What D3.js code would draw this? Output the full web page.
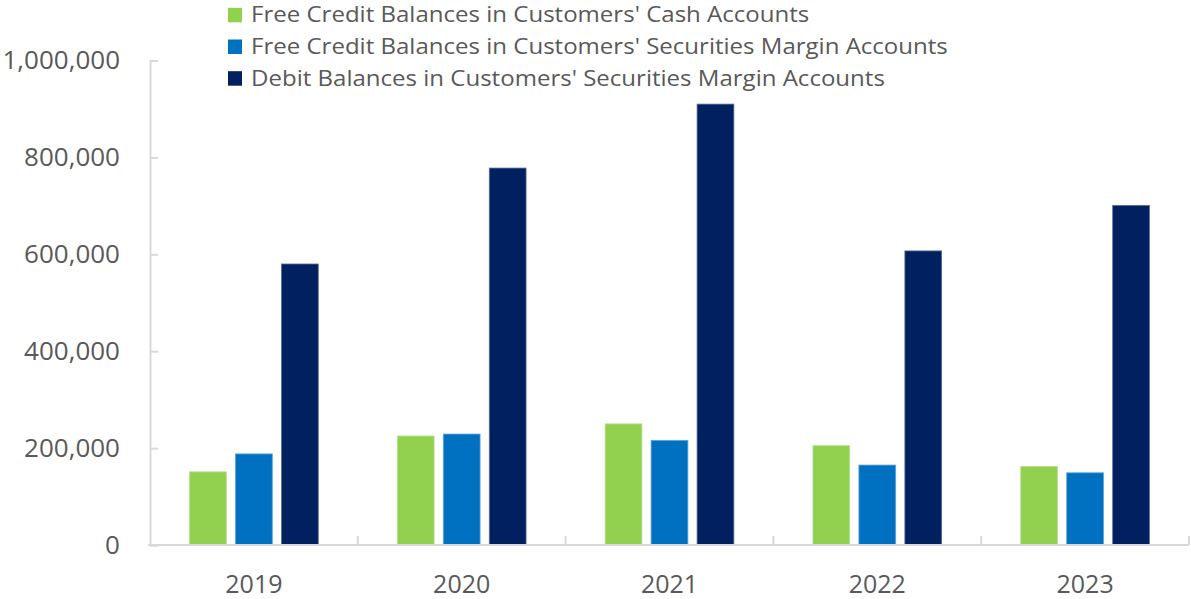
<!DOCTYPE html>
<html>
<head>
<meta charset="utf-8">
<script src="https://cdn.jsdelivr.net/npm/d3@7"></script>
<style>
  html, body { margin: 0; padding: 0; background: #ffffff; }
  svg { display: block; font-family: "Open Sans", "Noto Sans", sans-serif; }
</style>
</head>
<body>
<svg id="chart" width="1191" height="599"></svg>
<script>
// Years shown on the horizontal axis
const years = ["2019", "2020", "2021", "2022", "2023"];

// Series names (legend order)
const seriesNames = [
  "Free Credit Balances in Customers' Cash Accounts",
  "Free Credit Balances in Customers' Securities Margin Accounts",
  "Debit Balances in Customers' Securities Margin Accounts"
];

// Balances per year, one array per series
const cashFreeCredit   = [151000, 225000, 250000, 205000, 162000];
const marginFreeCredit = [188000, 229000, 216000, 165000, 149000];
const marginDebit      = [580000, 778000, 910000, 607000, 701000];

// Value-axis ticks
const yTicks = [0, 200000, 400000, 600000, 800000, 1000000];

const seriesValues = [cashFreeCredit, marginFreeCredit, marginDebit];
const seriesColors = ["#92d050", "#0070c0", "#002060"];
const seriesEdges  = ["#b9e08f", "#5fa3d8", "#5a6f98"];

const svg = d3.select("#chart");
const textColor = "#595959";
const axisColor = "#d9d9d9";

const plot = { left: 150, right: 1189, top: 60.5, bottom: 545 };

const y = d3.scaleLinear().domain([0, 1000000]).range([plot.bottom, plot.top]);
const x0 = d3.scaleBand().domain(years).range([plot.left, plot.right]).padding(0);
const x1 = d3.scaleBand().domain(d3.range(seriesNames.length))
  .range([0, x0.bandwidth()]).paddingInner(0.2).paddingOuter(0.86);

// Bars
const rows = years.map((yr, i) => ({ yr, vals: seriesValues.map(s => s[i]) }));
const groups = svg.append("g").selectAll("g").data(rows).join("g")
  .attr("transform", d => `translate(${x0(d.yr)},0)`);
groups.selectAll("rect")
  .data(d => d.vals.map((v, k) => ({ v, k })))
  .join("rect")
  .attr("x", d => x1(d.k))
  .attr("width", x1.bandwidth())
  .attr("y", d => y(d.v))
  .attr("height", d => y(0) - y(d.v))
  .attr("fill", d => seriesColors[d.k])
  .attr("stroke", d => seriesEdges[d.k])
  .attr("stroke-width", 0.8);

// Y axis
const yAxis = svg.append("g")
  .attr("transform", `translate(${plot.left},0)`)
  .call(d3.axisLeft(y).tickValues(yTicks).tickFormat(d3.format(",")).tickSize(-8).tickPadding(30));
yAxis.select(".domain").attr("stroke", axisColor).attr("stroke-width", 2);
yAxis.selectAll(".tick line").attr("stroke", axisColor).attr("stroke-width", 2);
yAxis.selectAll(".tick text")
  .attr("fill", textColor).attr("font-size", 25).attr("font-family", "'Open Sans', sans-serif")
  .attr("x", 0)
  .attr("transform", "translate(-30,0) scale(1.04,1)");

// X axis
const xAxis = svg.append("g")
  .attr("transform", `translate(0,${plot.bottom})`)
  .call(d3.axisBottom(x0).tickSize(0).tickPadding(30));
xAxis.select(".domain").remove();
xAxis.append("line")
  .attr("x1", plot.left - 2).attr("x2", plot.right)
  .attr("stroke", axisColor).attr("stroke-width", 2);
const boundaries = years.map(yr => x0(yr) + x0.bandwidth());
xAxis.selectAll(".boundary").data(boundaries).join("line")
  .attr("class", "boundary")
  .attr("x1", d => d).attr("x2", d => d)
  .attr("y1", 0).attr("y2", -9)
  .attr("stroke", axisColor).attr("stroke-width", 2);
xAxis.selectAll(".tick text")
  .attr("fill", textColor).attr("font-size", 25).attr("font-family", "'Open Sans', sans-serif")
  .attr("dy", "0.71em");

// Legend
const legend = svg.append("g").attr("transform", "translate(228,0)");
const lg = legend.selectAll("g").data(seriesNames).join("g")
  .attr("transform", (d, i) => `translate(0,${22.3 + i * 31.7})`);
lg.append("rect").attr("x", 0).attr("y", -14.5).attr("width", 14).attr("height", 14.5)
  .attr("fill", (d, i) => seriesColors[i]);
lg.append("text")
  .attr("transform", "translate(23,0) scale(1.093,1)")
  .attr("fill", textColor).attr("font-size", 22)
  .text(d => d);
</script>
</body>
</html>
